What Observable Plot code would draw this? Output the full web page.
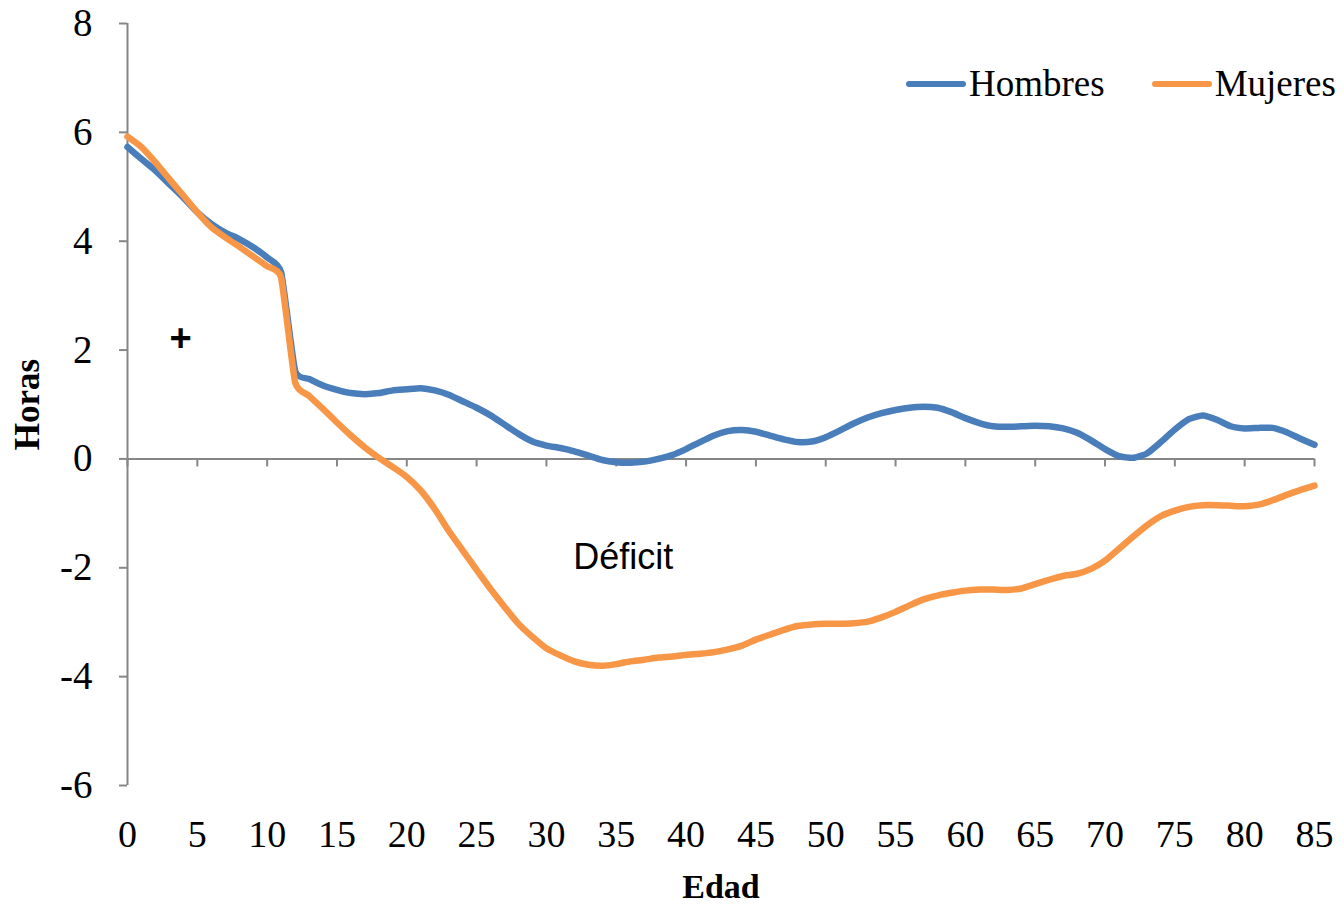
<!DOCTYPE html>
<html>
<head>
<meta charset="utf-8">
<script src="https://cdn.jsdelivr.net/npm/d3@7"></script>
<script src="https://cdn.jsdelivr.net/npm/@observablehq/plot@0.6"></script>
<style>
  html, body { margin: 0; padding: 0; background: #fff; }
  #wrap { position: relative; width: 1344px; height: 908px; }
  #legend { position: absolute; left: 905px; top: 62px; display: flex; align-items: center;
            font-family: "Liberation Serif", "Times New Roman", serif; font-size: 37px; color: #000; }
  .item { display: flex; align-items: center; margin-right: 46px; }
  .item:last-child { margin-right: 0; }
  .item svg { margin-right: 2px; }
</style>
</head>
<body>
<div id="wrap"><div id="legend"></div></div>
<script>
// Ages 0..85
const ages = d3.range(0, 86);
const hombres = [
  5.73, 5.51, 5.30, 5.05, 4.80, 4.53, 4.32, 4.16, 4.04, 3.89,
  3.70, 3.43, 1.62, 1.47, 1.35, 1.27, 1.21, 1.19, 1.21, 1.26,
  1.28, 1.30, 1.26, 1.18, 1.06, 0.94, 0.80, 0.63, 0.46, 0.32,
  0.245, 0.20, 0.14, 0.06, -0.02, -0.06, -0.07, -0.05, 0.0, 0.07,
  0.18, 0.31, 0.43, 0.51, 0.53, 0.50, 0.43, 0.36, 0.31, 0.32,
  0.40, 0.52, 0.65, 0.76, 0.84, 0.90, 0.94, 0.96, 0.94, 0.86,
  0.75, 0.66, 0.60, 0.59, 0.60, 0.61, 0.60, 0.56, 0.48, 0.34,
  0.18, 0.05, 0.02, 0.10, 0.31, 0.54, 0.73, 0.80, 0.72, 0.60,
  0.56, 0.57, 0.57, 0.49, 0.37, 0.26
];
const mujeres = [
  5.92, 5.73, 5.45, 5.14, 4.84, 4.53, 4.26, 4.07, 3.90, 3.72,
  3.54, 3.33, 1.41, 1.16, 0.92, 0.67, 0.43, 0.21, 0.02, -0.15,
  -0.33, -0.58, -0.92, -1.32, -1.68, -2.04, -2.39, -2.72, -3.03, -3.27,
  -3.48, -3.61, -3.72, -3.78, -3.80, -3.77, -3.72, -3.69, -3.65, -3.63,
  -3.60, -3.58, -3.55, -3.50, -3.43, -3.32, -3.23, -3.14, -3.07, -3.04,
  -3.03, -3.03, -3.02, -2.99, -2.91, -2.81, -2.69, -2.58, -2.51, -2.46,
  -2.42, -2.40, -2.40, -2.41, -2.38, -2.30, -2.22, -2.15, -2.11, -2.02,
  -1.87, -1.65, -1.43, -1.22, -1.05, -0.95, -0.88, -0.85, -0.85, -0.86,
  -0.87, -0.84, -0.76, -0.66, -0.57, -0.49
];
const seriesNames = ["Hombres", "Mujeres"];
const seriesColors = ["#4A7EBB", "#F79646"];
const xTicks = d3.range(0, 86, 5);
const yTicks = [-6, -4, -2, 0, 2, 4, 6, 8];
const xLabel = "Edad";
const yLabel = "Horas";
const annotations = [
  {x: 3.8, y: 2.2, text: "+", font: "Liberation Sans", weight: "bold", size: 38},
  {x: 35.5, y: -1.81, text: "Déficit", font: "Liberation Sans", weight: "normal", size: 36}
];

const rows = [];
ages.forEach((a, i) => {
  rows.push({age: a, value: hombres[i], serie: seriesNames[0]});
  rows.push({age: a, value: mujeres[i], serie: seriesNames[1]});
});

const H = 908, mTop = 23, mBottom = 123;
const pxPerUnit = (H - mTop - mBottom) / 14;
const axisGray = "#868686";

const chart = Plot.plot({
  width: 1344,
  height: H,
  marginLeft: 127,
  marginRight: 30,
  marginTop: mTop,
  marginBottom: mBottom,
  style: {fontFamily: "'Liberation Serif', 'Times New Roman', serif", fontSize: "38px", color: "#000", background: "transparent"},
  x: {domain: [0, 85]},
  y: {domain: [-6, 8]},
  color: {domain: seriesNames, range: seriesColors},
  marks: [
    Plot.ruleX([0], {stroke: axisGray, strokeWidth: 2}),
    Plot.ruleY([0], {stroke: axisGray, strokeWidth: 2}),
    Plot.ruleX(xTicks, {x: d => d, y1: 0, y2: -8 / pxPerUnit, stroke: axisGray, strokeWidth: 2}),
    Plot.axisY({ticks: yTicks, tickSize: 8, tickPadding: 27, stroke: axisGray, strokeWidth: 2, fill: "#000", label: null, fontSize: 39, tickFormat: d => d < 0 ? "-" + Math.abs(d) : String(d)}),
    Plot.axisX({ticks: xTicks, tickSize: 0, tickPadding: 35, fill: "#000", label: null, fontSize: 38}),
    Plot.line(rows, {x: "age", y: "value", z: "serie", stroke: "serie", strokeWidth: 6.5, curve: "cardinal", tension: 0.5}),
    ...annotations.map(a => Plot.text([a], {x: "x", y: "y", text: "text", fontFamily: a.font, fontWeight: a.weight, fontSize: a.size, fill: "#000"})),
    Plot.text([yLabel], {frameAnchor: "left", dx: -100, rotate: -90, textAnchor: "middle", lineAnchor: "middle", fontWeight: "bold", fontSize: 35, fill: "#000"}),
    Plot.text([xLabel], {frameAnchor: "bottom", dy: 102, textAnchor: "middle", lineAnchor: "middle", fontWeight: "bold", fontSize: 34, fill: "#000"})
  ]
});
document.getElementById("wrap").prepend(chart);

const legend = document.getElementById("legend");
seriesNames.forEach((name, i) => {
  const item = document.createElement("div");
  item.className = "item";
  item.innerHTML = `<svg width="62" height="14"><line x1="4" y1="7" x2="58" y2="7" stroke="${seriesColors[i]}" stroke-width="6" stroke-linecap="round"/></svg><span>${name}</span>`;
  legend.appendChild(item);
});
</script>
</body>
</html>
